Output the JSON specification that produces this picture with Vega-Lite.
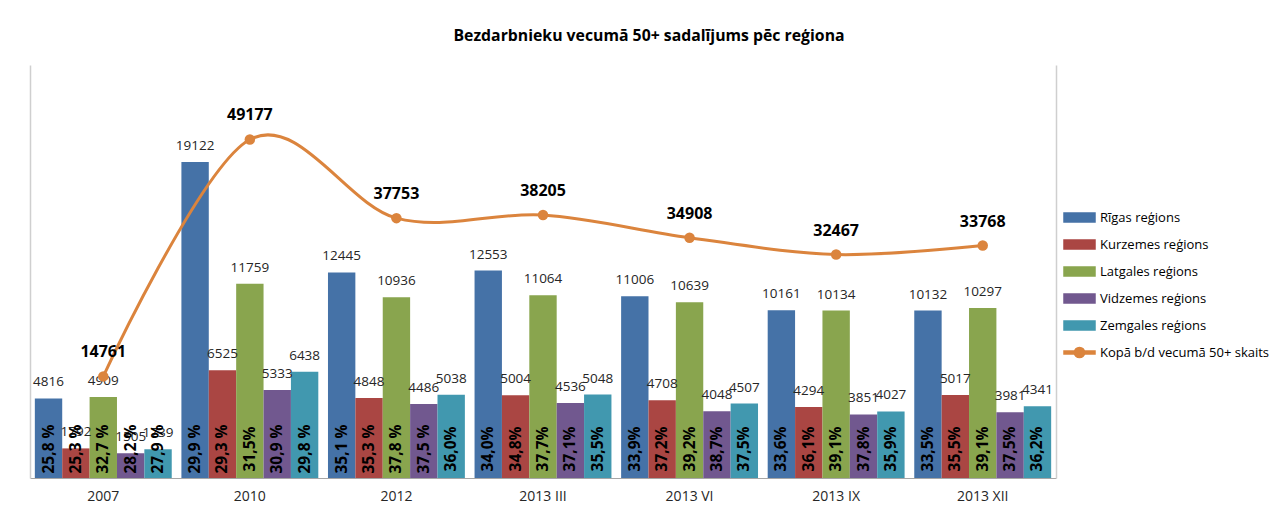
{
  "$schema": "https://vega.github.io/schema/vega-lite/v6.json",
  "width": 1026,
  "height": 413,
  "autosize": {"type": "none"},
  "padding": {"left": 30, "top": 65, "right": 223, "bottom": 34},
  "background": "white",
  "config": {
    "view": {"stroke": null},
    "font": "Open Sans",
    "axisX": {
      "ticks": false,
      "labelAngle": 0,
      "labelFont": "Open Sans",
      "labelFontSize": 14,
      "labelColor": "#262626",
      "labelPadding": 11,
      "domainColor": "#A6A6A6",
      "domainWidth": 1,
      "grid": false
    },
    "axisY": {
      "labels": false,
      "ticks": false,
      "grid": false,
      "domainColor": "#CFCFCF",
      "domainWidth": 1.5
    }
  },
  "title": {
    "text": "Bezdarbnieku vecumā 50+ sadalījums pēc reģiona",
    "fontSize": 15.8,
    "fontWeight": "bold",
    "font": "Open Sans",
    "color": "#000000",
    "anchor": "middle",
    "dx": 106,
    "offset": 20
  },
  "datasets": {
    "bars": [
      {"cat": "2007", "region": "Rīgas reģions", "value": 4816, "pct": "25,8 %"},
      {"cat": "2007", "region": "Kurzemes reģions", "value": 1792, "pct": "25,3 %"},
      {"cat": "2007", "region": "Latgales reģions", "value": 4909, "pct": "32,7 %"},
      {"cat": "2007", "region": "Vidzemes reģions", "value": 1505, "pct": "28,2 %"},
      {"cat": "2007", "region": "Zemgales reģions", "value": 1739, "pct": "27,9 %"},
      {"cat": "2010", "region": "Rīgas reģions", "value": 19122, "pct": "29,9 %"},
      {"cat": "2010", "region": "Kurzemes reģions", "value": 6525, "pct": "29,3 %"},
      {"cat": "2010", "region": "Latgales reģions", "value": 11759, "pct": "31,5%"},
      {"cat": "2010", "region": "Vidzemes reģions", "value": 5333, "pct": "30,9 %"},
      {"cat": "2010", "region": "Zemgales reģions", "value": 6438, "pct": "29,8 %"},
      {"cat": "2012", "region": "Rīgas reģions", "value": 12445, "pct": "35,1 %"},
      {"cat": "2012", "region": "Kurzemes reģions", "value": 4848, "pct": "35,3 %"},
      {"cat": "2012", "region": "Latgales reģions", "value": 10936, "pct": "37,8 %"},
      {"cat": "2012", "region": "Vidzemes reģions", "value": 4486, "pct": "37,5 %"},
      {"cat": "2012", "region": "Zemgales reģions", "value": 5038, "pct": "36,0%"},
      {"cat": "2013 III", "region": "Rīgas reģions", "value": 12553, "pct": "34,0%"},
      {"cat": "2013 III", "region": "Kurzemes reģions", "value": 5004, "pct": "34,8%"},
      {"cat": "2013 III", "region": "Latgales reģions", "value": 11064, "pct": "37,7%"},
      {"cat": "2013 III", "region": "Vidzemes reģions", "value": 4536, "pct": "37,1%"},
      {"cat": "2013 III", "region": "Zemgales reģions", "value": 5048, "pct": "35,5%"},
      {"cat": "2013 VI", "region": "Rīgas reģions", "value": 11006, "pct": "33,9%"},
      {"cat": "2013 VI", "region": "Kurzemes reģions", "value": 4708, "pct": "37,2%"},
      {"cat": "2013 VI", "region": "Latgales reģions", "value": 10639, "pct": "39,2%"},
      {"cat": "2013 VI", "region": "Vidzemes reģions", "value": 4048, "pct": "38,7%"},
      {"cat": "2013 VI", "region": "Zemgales reģions", "value": 4507, "pct": "37,5%"},
      {"cat": "2013 IX", "region": "Rīgas reģions", "value": 10161, "pct": "33,6%"},
      {"cat": "2013 IX", "region": "Kurzemes reģions", "value": 4294, "pct": "36,1%"},
      {"cat": "2013 IX", "region": "Latgales reģions", "value": 10134, "pct": "39,1%"},
      {"cat": "2013 IX", "region": "Vidzemes reģions", "value": 3851, "pct": "37,8%"},
      {"cat": "2013 IX", "region": "Zemgales reģions", "value": 4027, "pct": "35,9%"},
      {"cat": "2013 XII", "region": "Rīgas reģions", "value": 10132, "pct": "33,5%"},
      {"cat": "2013 XII", "region": "Kurzemes reģions", "value": 5017, "pct": "35,5%"},
      {"cat": "2013 XII", "region": "Latgales reģions", "value": 10297, "pct": "39,1%"},
      {"cat": "2013 XII", "region": "Vidzemes reģions", "value": 3981, "pct": "37,5%"},
      {"cat": "2013 XII", "region": "Zemgales reģions", "value": 4341, "pct": "36,2%"}
    ],
    "totals": [
      {"cat": "2007", "total": 14761},
      {"cat": "2010", "total": 49177},
      {"cat": "2012", "total": 37753},
      {"cat": "2013 III", "total": 38205},
      {"cat": "2013 VI", "total": 34908},
      {"cat": "2013 IX", "total": 32467},
      {"cat": "2013 XII", "total": 33768}
    ]
  },
  "layer": [
    {
      "data": {"name": "bars"},
      "encoding": {
        "x": {
          "field": "cat",
          "type": "nominal",
          "title": null,
          "scale": {
            "domain": ["2007", "2010", "2012", "2013 III", "2013 VI", "2013 IX", "2013 XII"],
            "paddingInner": 0.066,
            "paddingOuter": 0.033
          }
        },
        "xOffset": {
          "field": "region",
          "type": "nominal",
          "scale": {
            "domain": ["Rīgas reģions", "Kurzemes reģions", "Latgales reģions", "Vidzemes reģions", "Zemgales reģions"],
            "paddingInner": 0,
            "paddingOuter": 0
          }
        },
        "y": {
          "field": "value",
          "type": "quantitative",
          "title": null,
          "scale": {"domain": [0, 25000], "nice": false},
          "axis": {"orient": "left"}
        }
      },
      "layer": [
        {
          "mark": {"type": "bar"},
          "encoding": {
            "color": {
              "field": "region",
              "type": "nominal",
              "scale": {
                "domain": ["Rīgas reģions", "Kurzemes reģions", "Latgales reģions", "Vidzemes reģions", "Zemgales reģions", "Kopā b/d vecumā 50+ skaits"],
                "range": ["#4572A7", "#AA4643", "#89A54E", "#71588F", "#4198AF", "#DB843D"]
              },
              "legend": {
                "title": null,
                "orient": "none",
                "legendX": 1033,
                "legendY": 136,
                "padding": 0,
                "symbolSize": 961,
                "labelFont": "Open Sans",
                "labelFontSize": 13,
                "labelColor": "#000000",
                "labelOffset": 4,
                "labelLimit": 400,
                "rowPadding": 3,
                "encode": {
                  "symbols": {
                    "update": {
                      "shape": {"signal": "datum.value === 'Kopā b/d vecumā 50+ skaits' ? 'M-1,-0.1H1V0.1H-1Z M0.33,0A0.33,0.33 0 1 1 -0.33,0A0.33,0.33 0 1 1 0.33,0Z' : 'M-1,-0.29H1V0.29H-1Z'"},
                      "fill": {"scale": "color", "field": "value"},
                      "stroke": {"value": "transparent"},
                      "opacity": {"value": 1},
                      "fillOpacity": {"value": 1}
                    }
                  }
                }
              }
            }
          }
        },
        {
          "mark": {"type": "text", "dy": -16, "fontSize": 13.5, "font": "Open Sans", "color": "#262626", "baseline": "middle"},
          "encoding": {"text": {"field": "value", "type": "quantitative", "format": "d"}}
        },
        {
          "mark": {"type": "text", "angle": 270, "align": "center", "baseline": "middle", "dx": 29, "fontSize": 15.5, "fontWeight": "bold", "font": "Open Sans", "color": "#000000"},
          "encoding": {"y": {"datum": 0}, "text": {"field": "pct", "type": "nominal"}}
        }
      ]
    },
    {
      "data": {"name": "totals"},
      "encoding": {
        "x": {"field": "cat", "type": "nominal", "title": null},
        "y": {
          "field": "total",
          "type": "quantitative",
          "title": null,
          "scale": {"domain": [0, 60000], "nice": false},
          "axis": {"orient": "right"}
        }
      },
      "layer": [
        {
          "mark": {"type": "line", "interpolate": "cardinal", "strokeWidth": 3},
          "encoding": {"color": {"datum": "Kopā b/d vecumā 50+ skaits"}}
        },
        {
          "mark": {"type": "point", "filled": true, "size": 110, "opacity": 1},
          "encoding": {"color": {"datum": "Kopā b/d vecumā 50+ skaits"}}
        },
        {
          "mark": {"type": "text", "dy": -24, "fontSize": 16, "fontWeight": "bold", "font": "Open Sans", "color": "#000000", "baseline": "middle"},
          "encoding": {"text": {"field": "total", "type": "quantitative", "format": "d"}}
        }
      ]
    }
  ],
  "resolve": {"scale": {"y": "independent"}}
}
